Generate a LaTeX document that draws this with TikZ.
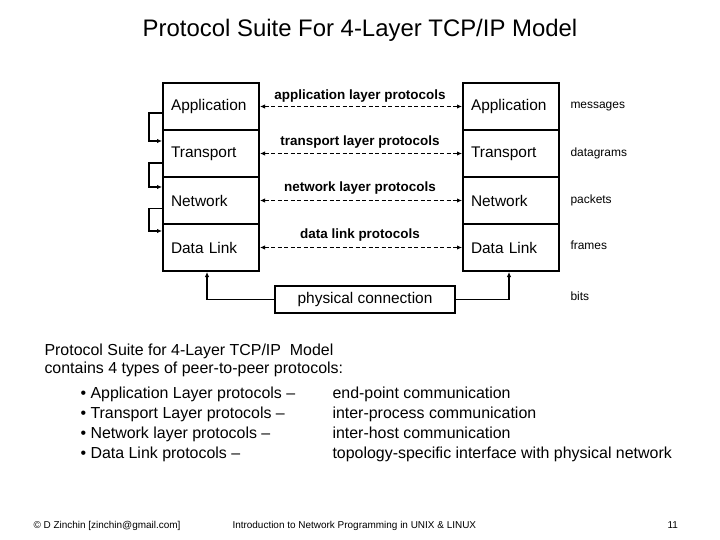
\documentclass[tikz,border=0pt]{standalone}
\usepackage{fontspec}
\setmainfont{Liberation Sans}
\usetikzlibrary{arrows.meta}
\begin{document}
\begin{tikzpicture}[x=1bp,y=-1bp,
  layer/.style={draw,line width=2bp,minimum height=47bp,text width=80bp,inner xsep=8bp,align=left,font=\fontsize{15.5}{18}\selectfont,anchor=north west},
  arr/.style={line width=1.5bp,-{Latex[length=5bp,width=4.5bp]}},
  peer/.style={line width=1.5bp,dash pattern=on 4bp off 2.5bp,{Latex[length=5bp,width=4.5bp]}-{Latex[length=5bp,width=4.5bp]}},
  plab/.style={font=\fontsize{13.5}{16}\selectfont\bfseries},
  side/.style={font=\fontsize{12}{14}\selectfont,anchor=west,text height=8.6bp,text depth=2.5bp},
  body/.style={font=\fontsize{16}{19}\selectfont,anchor=west,text height=11.5bp,text depth=3.4bp},
  foot/.style={font=\fontsize{10}{12}\selectfont,anchor=west,text height=7.2bp,text depth=2.1bp}]
\useasboundingbox (0,0) rectangle (720,540);
\fill[white] (0,0) rectangle (720,540);
\node[font=\fontsize{24}{28}\selectfont] (title) at (360,30) {Protocol Suite For 4-Layer TCP/IP Model};
% left stack
\node[layer] (LA) at (162,82) {Application};
\node[layer] (LT) at (162,129) {Transport};
\node[layer] (LN) at (162,176) {Network};
\node[layer] (LD) at (162,223) {Data Link};
% right stack
\node[layer] (RA) at (462,82) {Application};
\node[layer] (RT) at (462,129) {Transport};
\node[layer] (RN) at (462,176) {Network};
\node[layer] (RD) at (462,223) {Data Link};
% loops
\draw[arr] ([yshift=-6.5bp]LA.west) -- ++(-13,0) |- ([yshift=12.5bp]LT.west);
\draw[arr] ([yshift=-9.5bp]LT.west) -- ++(-13,0) |- ([yshift=13.5bp]LN.west);
\draw[arr] ([yshift=-8bp]LN.west) -- ++(-13,0) |- ([yshift=16.5bp]LD.west);
% peer protocols
\draw[peer] (LA.east) -- (RA.west);
\draw[peer] (LT.east) -- (RT.west);
\draw[peer] (LN.east) -- (RN.west);
\draw[peer] (LD.east) -- (RD.west);
\node[plab] (pa) at (360,96) {application layer protocols};
\node[plab] (pt) at (360,142) {transport layer protocols};
\node[plab] (pn) at (360,188) {network layer protocols};
\node[plab] (pd) at (360,235) {data link protocols};
% side labels
\node[side] (s1) at (567,105) {messages};
\node[side] (s2) at (567,153) {datagrams};
\node[side] (s3) at (567,200) {packets};
\node[side] (s4) at (567,246) {frames};
\node[side] (s5) at (567,297) {bits};
% physical connection
\node[draw,line width=2bp,minimum width=180bp,minimum height=27bp,font=\fontsize{15.5}{18}\selectfont] (PC) at (365,299.5) {physical connection};
\draw[arr] (PC.west) -| ([xshift=-4bp]LD.south);
\draw[arr] (PC.east) -| ([xshift=-2bp]RD.south);
% body text
\node[body] (b1) at (41,351) {Protocol Suite for 4-Layer TCP/IP\ \ Model};
\node[body] (b2) at (41,369) {contains 4 types of peer-to-peer protocols:};
\node[body] (l1) at (77,394) {• Application Layer protocols –};
\node[body] (l2) at (77,414) {• Transport Layer protocols –};
\node[body] (l3) at (77,434) {• Network layer protocols –};
\node[body] (l4) at (77,454) {• Data Link protocols –};
\node[body] (r1) at (329,394) {end-point communication};
\node[body] (r2) at (329,414) {inter-process communication};
\node[body] (r3) at (329,434) {inter-host communication};
\node[body] (r4) at (329,454) {topology-specific interface with physical network};
% footer
\node[foot] (f1) at (30,526) {© D Zinchin [zinchin@gmail.com]};
\node[foot] (f2) at (229,526) {Introduction to Network Programming in UNIX \& LINUX};
\node[foot] (f3) at (664,526) {11};
\end{tikzpicture}
\end{document}
